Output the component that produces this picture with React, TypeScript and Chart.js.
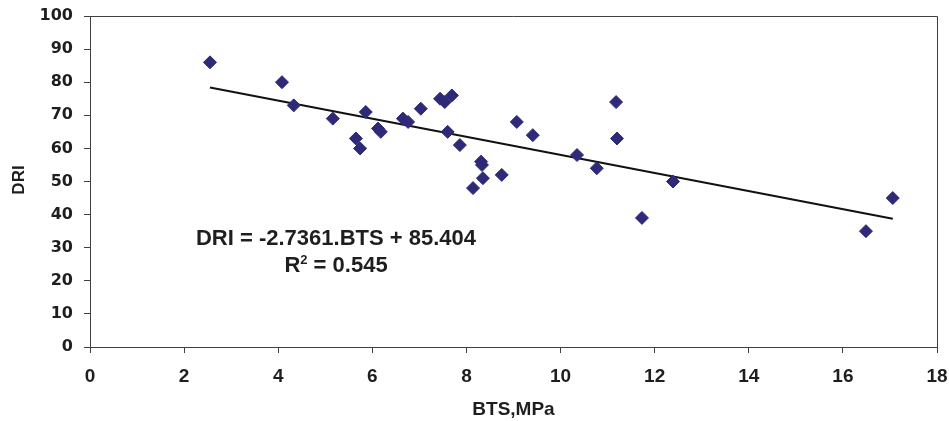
import React, { useEffect, useRef } from "react";
import { Chart, registerables } from "chart.js";

Chart.register(...registerables);

const btsValues = [
  2.55, 4.08, 4.33, 5.16, 5.65, 5.74, 5.86, 6.12, 6.18, 6.65, 6.76, 7.03, 7.44, 7.54, 7.69, 7.6,
  7.86, 8.14, 8.31, 8.33, 8.35, 8.75, 9.07, 9.41, 10.35, 10.77, 11.18, 11.2, 11.73, 12.39, 16.49, 17.06,
];
const driValues = [
  86, 80, 73, 69, 63, 60, 71, 66, 65, 69, 68, 72, 75, 74, 76, 65,
  61, 48, 56, 55, 51, 52, 68, 64, 58, 54, 74, 63, 39, 50, 35, 45,
];
const slope = -2.7361;
const intercept = 85.404;
const equationText = "DRI = -2.7361.BTS + 85.404";
const r2Label = "R";
const r2Value = " = 0.545";
const xTitle = "BTS,MPa";
const yTitle = "DRI";

const FONT = "'Liberation Sans', Arial, sans-serif";
const YFONT = "'DejaVu Sans', sans-serif";
const AXIS_COLOR = "#404040";
const TEXT_COLOR = "#1e1e1e";

export default function App() {
  const ref = useRef<HTMLCanvasElement | null>(null);

  useEffect(() => {
    document.body.style.margin = "0";
    const canvas = ref.current;
    if (!canvas) return;
    const xMin = Math.min(...btsValues);
    const xMax = Math.max(...btsValues);
    const trend = [
      { x: xMin, y: intercept + slope * xMin },
      { x: xMax, y: intercept + slope * xMax },
    ];
    const points = btsValues.map((x, i) => ({ x, y: driValues[i] }));

    const overlay = {
      id: "overlay",
      afterDraw(chart: any) {
        const { ctx, chartArea } = chart;
        ctx.save();
        ctx.strokeStyle = AXIS_COLOR;
        ctx.lineWidth = 1;
        ctx.beginPath();
        ctx.moveTo(chartArea.left, chartArea.top + 0.5);
        ctx.lineTo(chartArea.right + 0.5, chartArea.top + 0.5);
        ctx.lineTo(chartArea.right + 0.5, chartArea.bottom);
        ctx.stroke();

        ctx.fillStyle = TEXT_COLOR;
        ctx.textBaseline = "alphabetic";
        ctx.font = `bold 22px ${FONT}`;
        ctx.textAlign = "center";
        ctx.fillText(equationText, 336, 245);

        ctx.font = `bold 22px ${FONT}`;
        const rw = ctx.measureText(r2Label).width;
        const vw = ctx.measureText(r2Value).width;
        ctx.font = `bold 13px ${FONT}`;
        const sw = ctx.measureText("2").width;
        const total = rw + sw + vw;
        const x0 = 336 - total / 2;
        ctx.textAlign = "left";
        ctx.font = `bold 22px ${FONT}`;
        ctx.fillText(r2Label, x0, 272);
        ctx.font = `bold 13px ${FONT}`;
        ctx.fillText("2", x0 + rw, 264);
        ctx.font = `bold 22px ${FONT}`;
        ctx.fillText(r2Value, x0 + rw + sw, 272);

        ctx.textBaseline = "middle";
        ctx.textAlign = "center";
        ctx.font = `bold 19px ${FONT}`;
        ctx.fillText(xTitle, (chartArea.left + chartArea.right) / 2, 410);
        ctx.font = `bold 17px ${FONT}`;
        ctx.translate(19, 180);
        ctx.rotate(-Math.PI / 2);
        ctx.fillText(yTitle, 0, 0);
        ctx.restore();
      },
    };

    const chart = new Chart(canvas, {
      type: "scatter",
      data: {
        datasets: [
          {
            data: points,
            pointStyle: "rectRot",
            pointRadius: 6.5,
            pointBackgroundColor: "#2e2a78",
            pointBorderColor: "#2e2a78",
            showLine: false,
          },
          {
            type: "line",
            data: trend,
            borderColor: "#111",
            borderWidth: 2,
            pointRadius: 0,
            fill: false,
          } as any,
        ],
      },
      options: {
        animation: false,
        responsive: false,
        events: [],
        layout: { padding: { top: 16, right: 12, left: 0, bottom: 0 } },
        plugins: { legend: { display: false }, tooltip: { enabled: false } },
        scales: {
          x: {
            type: "linear",
            min: 0,
            max: 18,
            afterFit(scale: any) {
              scale.height = 74;
              scale.paddingLeft = 0;
              scale.paddingRight = 0;
            },
            ticks: {
              stepSize: 2,
              color: TEXT_COLOR,
              font: { family: FONT, size: 19, weight: "bold" },
              padding: 12,
            },
            grid: { drawOnChartArea: false, drawTicks: true, tickLength: 6, color: AXIS_COLOR },
            border: { display: true, color: AXIS_COLOR, width: 1 },
          },
          y: {
            type: "linear",
            min: 0,
            max: 100,
            afterFit(scale: any) {
              scale.width = 90;
              scale.paddingTop = 0;
              scale.paddingBottom = 0;
            },
            ticks: {
              stepSize: 10,
              color: TEXT_COLOR,
              font: { family: YFONT, size: 16, weight: "bold" },
              padding: 11,
            },
            grid: { drawOnChartArea: false, drawTicks: true, tickLength: 6, color: AXIS_COLOR },
            border: { display: true, color: AXIS_COLOR, width: 1 },
          },
        },
      },
      plugins: [overlay],
    });
    return () => chart.destroy();
  }, []);

  return (
    <div style={{ position: "absolute", left: 0, top: 0, width: 949, height: 421, background: "#fff" }}>
      <canvas ref={ref} width={949} height={421} style={{ width: 949, height: 421, display: "block" }} />
    </div>
  );
}
